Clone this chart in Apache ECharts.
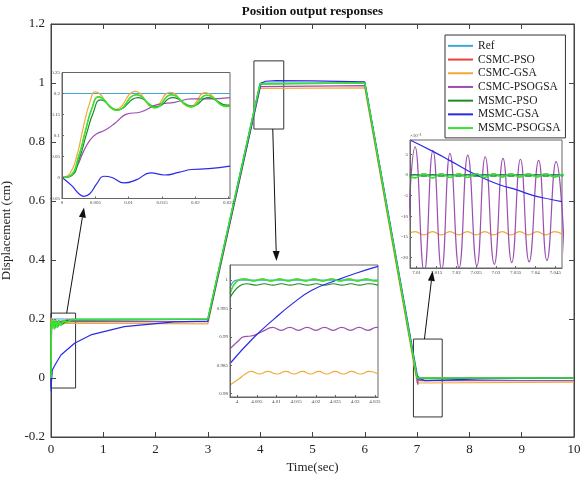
<!DOCTYPE html>
<html><head><meta charset="utf-8">
<script src="https://cdn.jsdelivr.net/npm/echarts@6/dist/echarts.min.js"></script>
<style>html,body{margin:0;padding:0;background:#fff}#c{width:582px;height:477px}</style>
</head><body><div id="c"></div>
<script>
// ---------- series names / colours ----------
const seriesNames = ['Ref','CSMC-PSO','CSMC-GSA','CSMC-PSOGSA','MSMC-PSO','MSMC-GSA','MSMC-PSOGSA'];
const seriesColors = ['#3fa7d6','#e8413c','#f2a93b','#9b4fb0','#1f8a2a','#2a2ae6','#33e633'];
const seriesWidths = [1.2,1,1.2,1.2,1.2,1.2,1.6];

// ---------- main panel (t [s], displacement [cm]) ----------
const main_Ref = [[0,0.2],[3,0.2],[4,1],[6,1],[7,0],[10,0]];
const main_CSMC_PSO = [[0,0],[0.0055,0.193],[0.025,0.17],[0.05,0.19],[0.1,0.188],[0.3,0.197],[3,0.199],[3.9982,0.9976],[4.0003,1.0],[6,1.0],[7,0.0005],[7.01,0],[10,0]];
const main_CSMC_GSA = [[0,0],[0.005,0.204],[0.008,0.162],[0.025,0.175],[0.05,0.2],[0.08,0.17],[0.12,0.192],[0.16,0.178],[0.25,0.186],[3,0.1838],[3.9982,0.9815],[4.004,0.9837],[6,0.9837],[7,-0.017],[7.01,-0.0141],[10,-0.0141]];
const main_CSMC_PSOGSA = [[0,0],[0.005,0.1],[0.0144,0.174],[0.0252,0.19],[0.1,0.192],[3,0.1914],[3.9982,0.9879],[4.008,0.9914],[6,0.9914],[7,-0.004],[7.012,-0.023],[7.03,0.005],[7.05,-0.0086],[10,-0.0086]];
const main_MSMC_PSO = [[0,0],[0.0058,0.186],[0.025,0.172],[0.045,0.192],[0.07,0.168],[0.1,0.19],[0.13,0.174],[0.17,0.192],[0.22,0.182],[0.3,0.195],[3,0.1992],[3.9982,0.9969],[4.0007,0.999],[6,0.9992],[7,-0.002],[7.01,-0.0002],[10,-0.0002]];
const main_MSMC_GSA = [[0,0],[0.0033,-0.045],[0.0063,0.003],[0.0093,-0.013],[0.0252,0.027],[0.095,0.05],[0.19,0.078],[0.45,0.118],[0.76,0.146],[1.4,0.174],[2.36,0.19],[3,0.193],[3.9982,0.9853],[4.0095,0.9932],[4.0254,1.0],[4.0358,1.0024],[4.1,1.006],[4.3,1.008],[5,1.007],[6,1.004],[7,0.012],[7.0083,0.0085],[7.0269,-0.0008],[7.0467,-0.0064],[7.15,-0.009],[7.5,-0.007],[8.2,-0.003],[9,-0.001],[10,0]];
const main_MSMC_PSOGSA = [[0,0],[0.0055,0.192],[0.025,0.168],[0.04,0.196],[0.065,0.165],[0.09,0.197],[0.12,0.17],[0.15,0.196],[0.19,0.178],[0.24,0.195],[0.3,0.188],[0.4,0.198],[3,0.2],[3.9982,0.9976],[4.0003,1.0],[6,1.0],[7,0.0],[10,0.0]];

// ---------- inset 1 : t in [0, 0.025] ----------
const z1_Ref = [[0,0.2],[0.0252,0.2]];
const z1_CSMC_GSA = [[0,0],[0.0012,0.01],[0.0022,0.05],[0.0032,0.12],[0.0042,0.18],[0.005,0.204],[0.008,0.162],[0.011,0.205],[0.0138,0.166],[0.0162,0.203],[0.0192,0.168],[0.0215,0.202],[0.0245,0.172],[0.0252,0.175]];
const z1_CSMC_PSOGSA = [[0,0],[0.0009,0.001],[0.0022,0.025],[0.0032,0.061],[0.0042,0.089],[0.0052,0.104],[0.0065,0.113],[0.008,0.13],[0.0097,0.151],[0.0118,0.156],[0.0144,0.174],[0.0169,0.179],[0.0194,0.187],[0.0219,0.187],[0.0252,0.19]];
const z1_MSMC_PSO = [[0,0],[0.0014,0.004],[0.0026,0.045],[0.0037,0.105],[0.0047,0.155],[0.0058,0.185],[0.0083,0.161],[0.0114,0.19],[0.0142,0.168],[0.0166,0.19],[0.0196,0.17],[0.0219,0.19],[0.0249,0.172],[0.0252,0.172]];
const z1_MSMC_GSA = [[0,0],[0.0015,-0.02],[0.0025,-0.038],[0.0033,-0.045],[0.0042,-0.038],[0.0052,-0.015],[0.0063,0.003],[0.0075,0.0],[0.0093,-0.013],[0.0112,-0.005],[0.0133,0.011],[0.0154,0.006],[0.0175,0.012],[0.0194,0.019],[0.022,0.021],[0.0252,0.027]];
const z1_MSMC_PSOGSA = [[0,0],[0.0013,0.005],[0.0025,0.05],[0.0035,0.11],[0.0045,0.165],[0.0055,0.192],[0.0082,0.16],[0.0112,0.197],[0.014,0.166],[0.0164,0.197],[0.0194,0.168],[0.0217,0.196],[0.0247,0.169],[0.0252,0.17]];
const z1_CSMC_PSO = z1_MSMC_PSOGSA; // hidden under MSMC-PSOGSA in the picture

// ---------- inset 2 : t in [3.998, 4.036] ----------
const z2_Ref = [[3.9982,0.99856],[4,1],[4.0358,1]];
const z2_CSMC_GSA = [[3.9982,0.9815],[4.0005,0.9826],[4.002,0.9834],[4.0036,0.9839],[4.0057,0.98345],[4.0078,0.9839],[4.0101,0.98345],[4.0124,0.9839],[4.0145,0.98345],[4.0166,0.9839],[4.0187,0.98345],[4.0207,0.9839],[4.0228,0.98345],[4.0249,0.9839],[4.027,0.98345],[4.0291,0.9839],[4.0313,0.98345],[4.0336,0.9839],[4.0358,0.98345]];
const z2_CSMC_PSOGSA = [[3.9982,0.9879],[4.0005,0.9894],[4.0016,0.99],[4.003,0.9901],[4.0045,0.9903],[4.0066,0.991],[4.009,0.99165],[4.0112,0.99115],[4.0134,0.99165],[4.0156,0.99115],[4.0178,0.99165],[4.02,0.99115],[4.0222,0.99165],[4.0244,0.99115],[4.0266,0.99165],[4.0288,0.99115],[4.031,0.99165],[4.0332,0.99115],[4.0354,0.99165],[4.0358,0.9916]];
const z2_MSMC_PSO = [[3.9982,0.9969],[4.0007,0.999],[4.0025,0.99935],[4.0047,0.9991],[4.0069,0.99935],[4.0091,0.9991],[4.0113,0.99935],[4.0135,0.9991],[4.0157,0.99935],[4.0179,0.9991],[4.0201,0.99935],[4.0223,0.9991],[4.0245,0.99935],[4.0267,0.9991],[4.0289,0.99935],[4.0311,0.9991],[4.0333,0.99935],[4.0358,0.9991]];
const z2_MSMC_GSA = [[3.9982,0.9853],[4.004,0.9897],[4.0095,0.9932],[4.014,0.9958],[4.019,0.9982],[4.0254,1.0],[4.0302,1.0012],[4.0358,1.0024]];
const z2_MSMC_PSOGSA = [[3.9982,0.9976],[4.0003,0.99995],[4.002,1.00018],[4.0042,0.99985],[4.0064,1.00018],[4.0086,0.99985],[4.0108,1.00018],[4.013,0.99985],[4.0152,1.00018],[4.0174,0.99985],[4.0196,1.00018],[4.0218,0.99985],[4.024,1.00018],[4.0262,0.99985],[4.0284,1.00018],[4.0306,0.99985],[4.0328,1.00018],[4.035,0.99985],[4.0358,0.9999]];
const z2_CSMC_PSO = z2_MSMC_PSOGSA;

// ---------- inset 3 : t in [7.008, 7.047], values x10^-3 ----------
const z3_Ref = [[7.0,0],[7.05,0]];
const z3_CSMC_GSA = [[7.0074,-14.5],[7.0096,-13.7],[7.0118,-14.5],[7.014,-13.7],[7.0162,-14.5],[7.0184,-13.7],[7.0206,-14.5],[7.0228,-13.7],[7.025,-14.5],[7.0272,-13.7],[7.0294,-14.5],[7.0316,-13.7],[7.0338,-14.5],[7.036,-13.7],[7.0382,-14.5],[7.0404,-13.7],[7.0426,-14.5],[7.0448,-13.7],[7.047,-14.5]];
const z3_CSMC_PSOGSA = [[7.0074,-24],[7.0096,6.8],[7.0119,-23.5],[7.0141,5.9],[7.0163,-23.0],[7.0184,5.2],[7.0207,-22.5],[7.0229,4.8],[7.0252,-22.0],[7.0273,4.4],[7.0296,-21.6],[7.0318,4.0],[7.034,-21.2],[7.0362,3.8],[7.0384,-21.0],[7.0408,3.5],[7.0429,-20.7],[7.0452,3.2],[7.0474,-20.4]];
const z3_MSMC_PSO = [[7.0074,-0.3],[7.0096,0.1],[7.0118,-0.3],[7.014,0.1],[7.0162,-0.3],[7.0184,0.1],[7.0206,-0.3],[7.0228,0.1],[7.025,-0.3],[7.0272,0.1],[7.0294,-0.3],[7.0316,0.1],[7.0338,-0.3],[7.036,0.1],[7.0382,-0.3],[7.0404,0.1],[7.0426,-0.3],[7.0448,0.1],[7.047,-0.3]];
const z3_MSMC_GSA = [[7.0083,8.45],[7.0142,5.64],[7.0184,3.46],[7.0226,1.21],[7.0269,-0.81],[7.0311,-2.42],[7.0353,-3.62],[7.0395,-5.0],[7.0437,-5.88],[7.0467,-6.44]];
const z3_MSMC_PSOGSA = [[7.0074,0.3],[7.0096,-0.7],[7.0118,0.3],[7.014,-0.7],[7.0162,0.3],[7.0184,-0.6],[7.0206,0.3],[7.0228,-0.6],[7.025,0.3],[7.0272,-0.6],[7.0294,0.3],[7.0316,-0.5],[7.0338,0.3],[7.036,-0.5],[7.0382,0.3],[7.0404,-0.5],[7.0426,0.3],[7.0448,-0.5],[7.047,0.3]];
const z3_CSMC_PSO = z3_MSMC_PSOGSA;

// ---------- tick values ----------
const z1_xTicks = [0,0.005,0.01,0.015,0.02,0.025];
const z1_yTicks = [-0.05,0,0.05,0.1,0.15,0.2,0.25];
const z2_xTicks = [4,4.005,4.01,4.015,4.02,4.025,4.03,4.035];
const z2_yTicks = [0.98,0.985,0.99,0.995,1];
const z3_xTicks = [7.01,7.015,7.02,7.025,7.03,7.035,7.04,7.045];
const z3_yTicks = [-20,-15,-10,-5,0,5];

// zoom boxes on the main axes: [t0, v0, t1, v1]
const zoomBoxes = [[0,-0.034,0.47,0.22],[3.88,0.844,4.45,1.075],[6.93,-0.132,7.48,0.132]];

const SERIF = "'Liberation Serif','Times New Roman',serif";
const fmt = v => String(+(+v).toFixed(4));

const panels = [
  {ax:0, smooth:false, z:2, sets:[main_Ref,main_CSMC_PSO,main_CSMC_GSA,main_CSMC_PSOGSA,main_MSMC_PSO,main_MSMC_GSA,main_MSMC_PSOGSA]},
  {ax:2, smooth:0.5, z:6, sets:[z1_Ref,z1_CSMC_PSO,z1_CSMC_GSA,z1_CSMC_PSOGSA,z1_MSMC_PSO,z1_MSMC_GSA,z1_MSMC_PSOGSA]},
  {ax:3, smooth:0.5, z:6, sets:[z2_Ref,z2_CSMC_PSO,z2_CSMC_GSA,z2_CSMC_PSOGSA,z2_MSMC_PSO,z2_MSMC_GSA,z2_MSMC_PSOGSA]},
  {ax:4, smooth:0.5, z:6, sets:[z3_Ref,z3_CSMC_PSO,z3_CSMC_GSA,z3_CSMC_PSOGSA,z3_MSMC_PSO,z3_MSMC_GSA,z3_MSMC_PSOGSA]}
];

const series = [];
panels.forEach((p, pi) => {
  p.sets.forEach((d, i) => {
    const s = {
      type:'line', name:seriesNames[i], data:d, xAxisIndex:p.ax, yAxisIndex:p.ax,
      showSymbol:false, symbol:'none', smooth:p.smooth, clip:true, z:p.z,
      color:seriesColors[i], lineStyle:{color:seriesColors[i], width:seriesWidths[i]},
      animation:false
    };
    if (pi === 0 && i === 0) {
      s.markArea = {silent:true, itemStyle:{color:'rgba(0,0,0,0)', borderColor:'#333', borderWidth:1},
        data: zoomBoxes.map(b => [{xAxis:b[0], yAxis:b[1]}, {xAxis:b[2], yAxis:b[3]}])};
    }
    series.push(s);
  });
});

function insetAxis(gi, min, max, ticks, extra) {
  return Object.assign({
    type:'value', gridIndex:gi, min:min, max:max, z:7,
    axisLine:{show:true, onZero:false, lineStyle:{color:'#666', width:1}},
    axisTick:{show:true, inside:true, length:2, customValues:ticks, lineStyle:{color:'#666'}},
    axisLabel:{show:true, customValues:ticks, fontSize:5, color:'#444', margin:2, fontFamily:SERIF, formatter:fmt},
    splitLine:{show:false}
  }, extra || {});
}

const mainAxisCommon = {
  axisLine:{show:true, onZero:false, lineStyle:{color:'#444', width:1}},
  axisTick:{show:true, inside:true, length:5, lineStyle:{color:'#444'}},
  splitLine:{show:false}
};

const option = {
  backgroundColor:'#fff',
  animation:false,
  legend:{
    data:seriesNames, orient:'vertical', left:445, top:35, icon:'rect', itemWidth:25, itemHeight:2, itemGap:0,
    padding:[4,5,3,3], backgroundColor:'#fff', borderColor:'#333', borderWidth:1, z:10,
    textStyle:{fontFamily:SERIF, fontSize:11.5, color:'#222', lineHeight:13.7}
  },
  grid:[
    {left:51, top:24, right:8, bottom:40, show:true, borderColor:'#444', borderWidth:1, backgroundColor:'rgba(0,0,0,0)', outerBoundsMode:'none'},
    {left:62, top:72.5, width:168, height:126, show:true, borderColor:'#666', borderWidth:1, backgroundColor:'#fff', z:5, outerBoundsMode:'none'},
    {left:230, top:265, width:148, height:132, show:true, borderColor:'#666', borderWidth:1, backgroundColor:'#fff', z:5, outerBoundsMode:'none'},
    {left:410, top:140, width:152, height:128, show:true, borderColor:'#666', borderWidth:1, backgroundColor:'#fff', z:5, outerBoundsMode:'none'}
  ],
  xAxis:[
    Object.assign({type:'value', gridIndex:0, min:0, max:10, interval:1, name:'Time(sec)', nameLocation:'middle', nameGap:24,
      nameTextStyle:{fontFamily:SERIF, fontSize:13, color:'#222'},
      axisLabel:{fontFamily:SERIF, fontSize:13, color:'#222', margin:6, formatter:fmt}}, mainAxisCommon),
    Object.assign({type:'value', gridIndex:0, min:0, max:10, interval:1, position:'top', axisLabel:{show:false}}, mainAxisCommon),
    insetAxis(1, 0, 0.0252, z1_xTicks),
    insetAxis(2, 3.9982, 4.0358, z2_xTicks),
    insetAxis(3, 7.0083, 7.0467, z3_xTicks)
  ],
  yAxis:[
    Object.assign({type:'value', gridIndex:0, min:-0.2, max:1.2, interval:0.2, name:'Displacement (cm)', nameLocation:'middle', nameGap:36,
      nameTextStyle:{fontFamily:SERIF, fontSize:13, color:'#222'},
      axisLabel:{fontFamily:SERIF, fontSize:13, color:'#222', margin:6, formatter:fmt}}, mainAxisCommon),
    Object.assign({type:'value', gridIndex:0, min:-0.2, max:1.2, interval:0.2, position:'right', axisLabel:{show:false}}, mainAxisCommon),
    insetAxis(1, -0.05, 0.25, z1_yTicks),
    insetAxis(2, 0.9794, 1.00265, z2_yTicks),
    insetAxis(3, -22.5, 8.45, z3_yTicks, {name:'\u00d710\u207b\u00b3', nameLocation:'end', nameGap:2,
      nameTextStyle:{fontSize:5, color:'#444', fontFamily:SERIF, align:'left'}})
  ],
  series:series
};

const chart = echarts.init(document.getElementById('c'), null, {renderer:'canvas'});
chart.setOption(option);

// annotation arrows: from zoom boxes (main axes) to the insets
const arrowDefs = [
  {from:[0.3,0.22], to:[2,[0.0033,-0.05]], dy:9},
  {from:[4.24,0.844], to:[3,[4.01,1.00265]], dy:-4},
  {from:[7.14,0.132], to:[4,[7.014,-22.5]], dy:3}
];
function px(ax, pt){ return chart.convertToPixel({xAxisIndex:ax, yAxisIndex:ax}, pt); }
const els = [{type:'text', x:312.5, y:5, z:30, style:{text:'Position output responses', font:"bold 13px "+SERIF, fill:'#111', textAlign:'center', textVerticalAlign:'top'}}];
arrowDefs.forEach(a => {
  const s = px(0, a.from);
  const t0 = px(a.to[0], a.to[1]);
  const t = [t0[0], t0[1] + a.dy];
  const dx=t[0]-s[0], dy=t[1]-s[1], L=Math.hypot(dx,dy), ux=dx/L, uy=dy/L;
  const hl=10, hw=3.5, bx=t[0]-ux*hl, by=t[1]-uy*hl;
  els.push({type:'polyline', z:30, shape:{points:[s,[bx,by]]}, style:{stroke:'#111', lineWidth:1, fill:null}});
  els.push({type:'polygon', z:30, shape:{points:[t,[bx-uy*hw,by+ux*hw],[bx+uy*hw,by-ux*hw]]}, style:{fill:'#111'}});
});
chart.setOption({graphic:{elements:els}});
</script></body></html>
